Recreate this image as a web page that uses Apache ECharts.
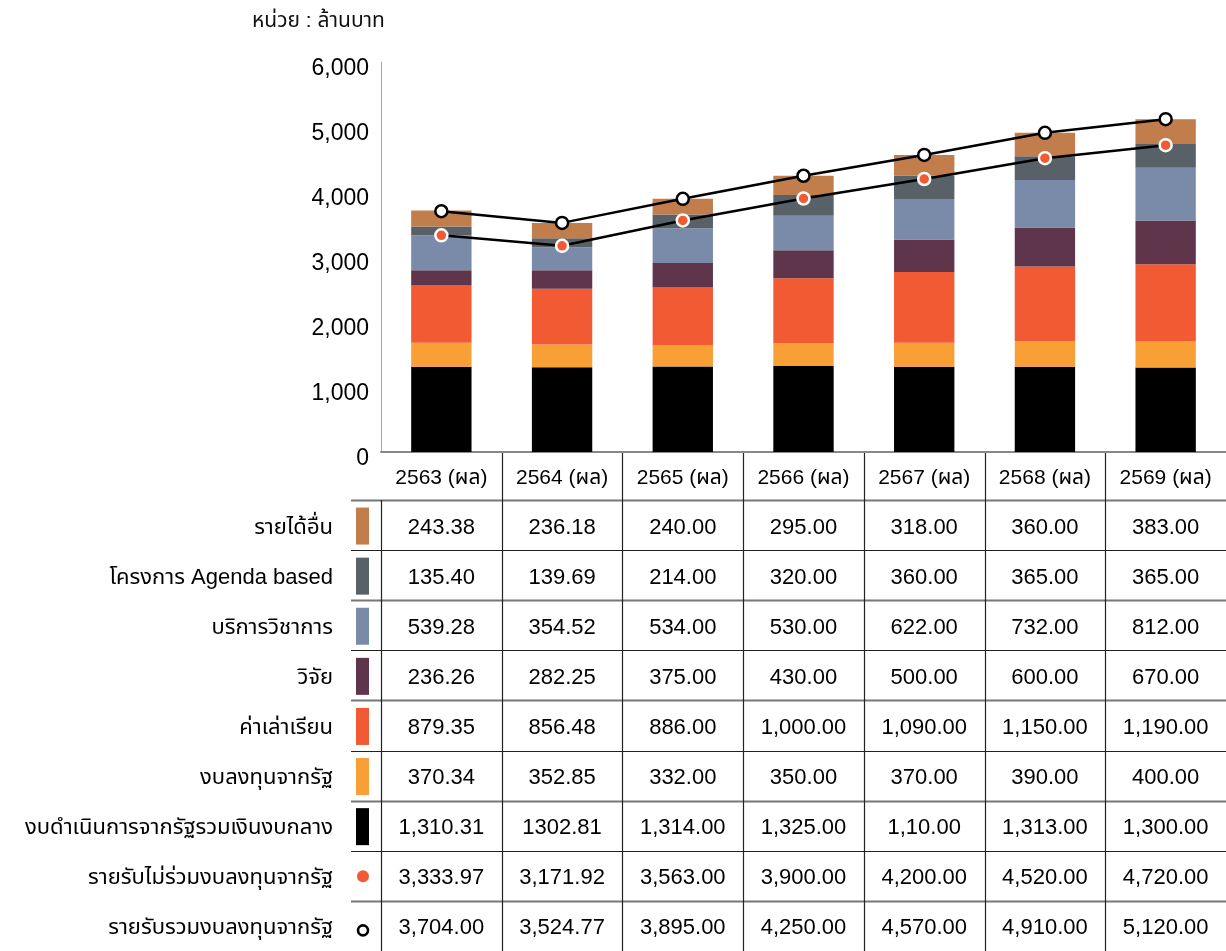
<!DOCTYPE html>
<html>
<head>
<meta charset="utf-8">
<script src="https://cdn.jsdelivr.net/npm/echarts@6/dist/echarts.min.js"></script>
<style>
html,body{margin:0;padding:0;background:#fff;}
#chart{width:1226px;height:951px;}
</style>
</head>
<body>
<div id="chart"></div>
<script>
const categories = ['2563 (ผล)', '2564 (ผล)', '2565 (ผล)', '2566 (ผล)', '2567 (ผล)', '2568 (ผล)', '2569 (ผล)'];
const otherIncome = [243.38, 236.18, 240.00, 295.00, 318.00, 360.00, 383.00];
const agendaBased = [135.40, 139.69, 214.00, 320.00, 360.00, 365.00, 365.00];
const academicService = [539.28, 354.52, 534.00, 530.00, 622.00, 732.00, 812.00];
const research = [236.26, 282.25, 375.00, 430.00, 500.00, 600.00, 670.00];
const tuition = [879.35, 856.48, 886.00, 1000.00, 1090.00, 1150.00, 1190.00];
const investmentBudget = [370.34, 352.85, 332.00, 350.00, 370.00, 390.00, 400.00];
const operatingBudget = [1310.31, 1302.81, 1314.00, 1325.00, 1310.00, 1313.00, 1300.00];
const incomeExclInvestment = [3333.97, 3171.92, 3563.00, 3900.00, 4200.00, 4520.00, 4720.00];
const incomeInclInvestment = [3704.00, 3524.77, 3895.00, 4250.00, 4570.00, 4910.00, 5120.00];
// table cells printed differently from the plotted value in the source
const operatingTableText = ['1,310.31', '1302.81', '1,314.00', '1,325.00', '1,10.00', '1,313.00', '1,300.00'];
const yTicks = [0, 1000, 2000, 3000, 4000, 5000, 6000];

const seriesNames = {
  other: 'รายได้อื่น',
  agenda: 'โครงการ Agenda based',
  service: 'บริการวิชาการ',
  research: 'วิจัย',
  tuition: 'ค่าเล่าเรียน',
  invest: 'งบลงทุนจากรัฐ',
  operating: 'งบดำเนินการจากรัฐรวมเงินงบกลาง',
  excl: 'รายรับไม่ร่วมงบลงทุนจากรัฐ',
  incl: 'รายรับรวมงบลงทุนจากรัฐ'
};
const colors = {
  other: '#C17D4B', agenda: '#586068', service: '#798BA8', research: '#5E354A',
  tuition: '#F15A33', invest: '#F89F35', operating: '#000000'
};

const FONT = '"Liberation Sans", "Noto Sans", "Noto Sans Thai", sans-serif';
const G = { left: 381, top: 62, width: 845, height: 390 };
const ROW_TOP = 500, ROW_H = 50.1;
const fmt = v => v.toLocaleString('en-US', { minimumFractionDigits: 2, maximumFractionDigits: 2 });

const tableRows = [
  { key: 'other', text: otherIncome.map(fmt), mark: 'rect' },
  { key: 'agenda', text: agendaBased.map(fmt), mark: 'rect' },
  { key: 'service', text: academicService.map(fmt), mark: 'rect' },
  { key: 'research', text: research.map(fmt), mark: 'rect' },
  { key: 'tuition', text: tuition.map(fmt), mark: 'rect' },
  { key: 'invest', text: investmentBudget.map(fmt), mark: 'rect' },
  { key: 'operating', text: operatingTableText, mark: 'rect' },
  { key: 'excl', text: incomeExclInvestment.map(fmt), mark: 'dot' },
  { key: 'incl', text: incomeInclInvestment.map(fmt), mark: 'ring' }
];

const chart = echarts.init(document.getElementById('chart'), null, { renderer: 'canvas' });

function barSeries(key, data) {
  return {
    name: seriesNames[key], type: 'bar', stack: 'total', data: data,
    barWidth: '50%', itemStyle: { color: colors[key] }, z: 2
  };
}

function buildGraphics() {
  const els = [];
  const cw = G.width / categories.length;
  const bottom = G.top + G.height;
  els.push({ type: 'text', left: 252, top: 11, style: { text: 'หน่วย : ล้านบาท', font: '21px ' + FONT, fill: '#111' } });
  for (let i = 0; i < tableRows.length; i++) {
    const y = Math.round(ROW_TOP + i * ROW_H) + 0.5;
    els.push({ type: 'line', shape: { x1: 351, y1: y, x2: 1226, y2: y }, style: { stroke: i % 2 === 0 ? '#777' : '#222', lineWidth: i % 2 === 0 ? 2 : 1.2 }, silent: true });
  }
  for (let c = 0; c < categories.length; c++) {
    const x = Math.round(G.left + c * cw) + 0.5;
    els.push({ type: 'line', shape: { x1: x, y1: c === 0 ? ROW_TOP : bottom, x2: x, y2: 951 }, style: { stroke: '#222', lineWidth: 1.2 }, silent: true });
  }
  tableRows.forEach((row, r) => {
    const cy = ROW_TOP + r * ROW_H + ROW_H / 2 + 2.5;
    els.push({ type: 'text', x: 333, y: cy, style: { text: seriesNames[row.key], font: '22px ' + FONT, fill: '#000', align: 'right', verticalAlign: 'middle' } });
    if (row.mark === 'rect') {
      els.push({ type: 'rect', shape: { x: 356, y: cy - 20, width: 13, height: 37 }, style: { fill: colors[row.key] } });
    } else if (row.mark === 'dot') {
      els.push({ type: 'circle', shape: { cx: 363, cy: cy - 2, r: 6 }, style: { fill: '#F15A33' } });
    } else {
      els.push({ type: 'circle', shape: { cx: 363, cy: cy + 2, r: 5 }, style: { fill: '#fff', stroke: '#000', lineWidth: 2.6 } });
    }
    row.text.forEach((t, c) => {
      els.push({ type: 'text', x: G.left + c * cw + cw / 2, y: cy, style: { text: t, font: '22px ' + FONT, fill: '#000', align: 'center', verticalAlign: 'middle' } });
    });
  });
  return els;
}

chart.setOption({
  animation: false,
  textStyle: { fontFamily: FONT },
  grid: { left: G.left, top: G.top, width: G.width, height: G.height, containLabel: false },
  xAxis: {
    type: 'category', data: categories,
    axisLine: { show: true, lineStyle: { color: '#888', width: 2 } },
    axisTick: { show: false },
    axisLabel: { fontSize: 21, color: '#000', margin: 16, fontFamily: FONT }
  },
  yAxis: {
    type: 'value', min: yTicks[0], max: yTicks[yTicks.length - 1], interval: yTicks[1] - yTicks[0],
    axisLine: { show: true, lineStyle: { color: '#EC8A78', width: 1 } },
    axisTick: { show: false },
    splitLine: { show: false },
    axisLabel: { fontSize: 23, color: '#000', margin: 12, fontFamily: FONT, verticalAlign: 'top', lineHeight: 14, formatter: v => v.toLocaleString('en-US') }
  },
  series: [
    barSeries('operating', operatingBudget),
    barSeries('invest', investmentBudget),
    barSeries('tuition', tuition),
    barSeries('research', research),
    barSeries('service', academicService),
    barSeries('agenda', agendaBased),
    barSeries('other', otherIncome),
    {
      name: seriesNames.excl, type: 'line', data: incomeExclInvestment, z: 5,
      symbol: 'circle', symbolSize: 12,
      lineStyle: { color: '#000', width: 2.5 },
      itemStyle: { color: '#F15A33', borderColor: '#fff', borderWidth: 2.5 }
    },
    {
      name: seriesNames.incl, type: 'line', data: incomeInclInvestment, z: 5,
      symbol: 'circle', symbolSize: 12,
      lineStyle: { color: '#000', width: 2.5 },
      itemStyle: { color: '#fff', borderColor: '#000', borderWidth: 2.5 }
    }
  ],
  graphic: buildGraphics()
});
</script>
</body>
</html>
